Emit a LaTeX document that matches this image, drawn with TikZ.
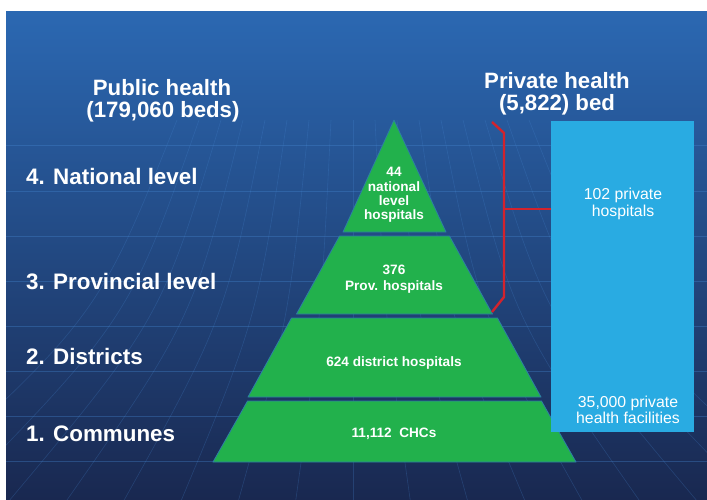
\documentclass[tikz,border=0pt]{standalone}
\usepackage{fontspec}
\setmainfont{Liberation Sans}
\usetikzlibrary{positioning}

\definecolor{bgtop}{RGB}{43,104,178}
\definecolor{bgmid}{RGB}{15,76,150}
\definecolor{bgbot}{RGB}{25,40,80}
\definecolor{gridblue}{RGB}{70,135,210}
\definecolor{tiergreen}{RGB}{34,177,76}
\definecolor{tieredge}{RGB}{45,125,165}
\definecolor{privblue}{RGB}{41,171,226}
\definecolor{bracketred}{RGB}{210,35,45}

\begin{document}
\begin{tikzpicture}[x=1pt,y=-1pt,
  tier/.style={fill=tiergreen,draw=tieredge,line width=0.8pt,line join=round},
  tiertext/.style={text=white,font=\fontsize{13.6}{14.3}\selectfont\bfseries,align=center,inner sep=0pt},
  levellabel/.style={text=white,font=\fontsize{22.4}{24}\selectfont\bfseries,anchor=west,inner sep=0pt},
  headline/.style={text=white,font=\fontsize{22.2}{24}\selectfont\bfseries,anchor=base,inner sep=0pt},
  privtext/.style={text=white,font=\fontsize{15.8}{17}\selectfont,align=center,inner sep=0pt}]
  \useasboundingbox (0,0) rectangle (707,500);
  \fill[white] (0,0) rectangle (707,500);

  % background with faint globe grid
  \shade[top color=bgtop,middle color=bgmid,bottom color=bgbot] (6,12) rectangle (707,500);
  \begin{scope}
    \clip (6,12) rectangle (707,500);
    \foreach \y in {145,191,236,281,326,371,416,461}
      \draw[gridblue,opacity=0.35,line width=0.6pt] (6,\y) -- (707,\y);
    \foreach \i in {-8,...,8}
      \draw[gridblue,opacity=0.25,line width=0.6pt] (353+\i*22,120) .. controls (353+\i*32,320) .. (353+\i*60,520);
  \end{scope}

  % column headings
  \node[headline] (pubhead) at (162,95.5) {Public health};
  \node[headline] (pubbeds) at (163,117.5) {(179,060 beds)};
  \node[headline] (privhead) at (557,88.5) {Private health};
  \node[headline] (privbeds) at (557,111) {(5,822) bed};

  % level labels
  \node[levellabel] (national) at (26,176) {4. National level};
  \node[levellabel] (provincial) at (26,282) {3. Provincial level};
  \node[levellabel] (districts) at (26,356) {2. Districts};
  \node[levellabel] (communes) at (26,434) {1. Communes};

  % the pyramid, one tier per level
  \draw[tier] (394,120) -- (446,232) -- (343,232) -- cycle;
  \draw[tier] (339.5,236) -- (449.5,236) -- (492.5,314) -- (296.5,314) -- cycle;
  \draw[tier] (291.5,318) -- (497.5,318) -- (541,397) -- (248,397) -- cycle;
  \draw[tier] (247.5,401) -- (541.5,401) -- (576,462) -- (213,462) -- cycle;
  \node[tiertext] (natl) at (394,195) {44\\national\\level\\hospitals};
  \node[tiertext,font=\fontsize{13.6}{16}\selectfont\bfseries] (prov) at (394,279.5) {376\\Prov. hospitals};
  \node[tiertext] (dist) at (394,363.4) {624 district hospitals};
  \node[tiertext] (chc) at (394,434) {11,112\ \ CHCs};

  % private sector
  \node[fill=privblue,minimum width=143,minimum height=311,inner sep=0pt] (priv) at (622.5,276.5) {};
  \node[privtext] (privhosp) at (623,204) {102 private\\hospitals};
  \node[privtext,font=\fontsize{15.8}{16}\selectfont] (privfac) at (628,410) {35,000 private\\health facilities};

  % bracket over the top two tiers
  \coordinate (brtop) at (492,122);
  \coordinate (brmid) at (504,209);
  \coordinate (brbot) at (492,312);
  \draw[bracketred,line width=2.4pt,line join=miter] (brtop) -- (504,133) -- (504,297) -- (brbot);
  \draw[bracketred,line width=2.4pt] (brmid) -- (brmid -| priv.west);
\end{tikzpicture}
\end{document}
